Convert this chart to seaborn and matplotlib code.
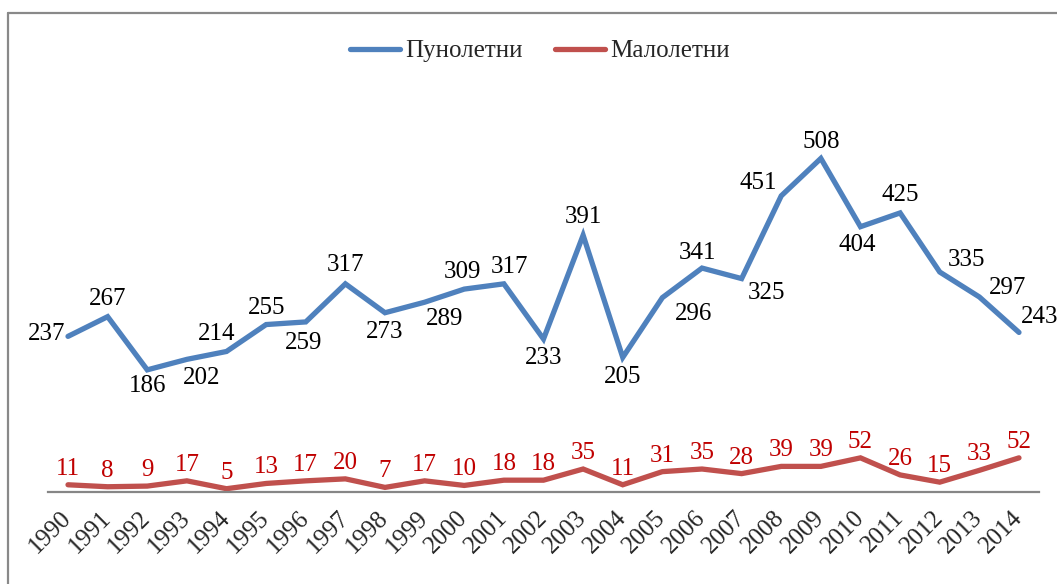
import pandas as pd
import seaborn as sns
import matplotlib.pyplot as plt
from matplotlib.lines import Line2D

# Data
years = [str(y) for y in range(1990, 2015)]
adults = [237, 267, 186, 202, 214, 255, 259, 317, 273, 289, 309, 317, 233,
          391, 205, 296, 341, 325, 451, 508, 404, 425, 335, 297, 243]
minors = [11, 8, 9, 17, 5, 13, 17, 20, 7, 17, 10, 18, 18,
          35, 11, 31, 35, 28, 39, 39, 52, 26, 15, 33, 52]
series_names = ["Пунолетни", "Малолетни"]

# label offsets (pixels) for the adult series, chosen to match the original
adult_offsets = [(-21, 2), (0, 18), (0, -16), (15, -19), (-10, 17), (0, 17),
                 (-2, -21), (0, 19), (0, -19), (20, -17), (-2, 17), (6, 17),
                 (0, -19), (0, 18), (0, -20), (31, -16), (-4, 15), (25, -14),
                 (-23, 13), (0, 16), (-3, -18), (0, 18), (27, 12), (28, 9),
                 (21, 15)]

blue = "#4F81BD"
red = "#C0504D"
label_red = "#C00000"

df = pd.DataFrame({
    "year": years * 2,
    "value": adults + minors,
    "group": [series_names[0]] * len(years) + [series_names[1]] * len(years),
})

sns.set_style("white")
plt.rcParams["font.family"] = ["Liberation Serif", "DejaVu Serif"]

W, H = 1057, 584
fig = plt.figure(figsize=(W / 100, H / 100), dpi=100)
ax = fig.add_axes([48.2 / W, 92 / H, 990.6 / W, 394 / H])

sns.lineplot(data=df, x="year", y="value", hue="group", palette=[blue, red],
             linewidth=3.8, ax=ax, legend=False, sort=False)
for line in ax.lines:
    line.set_solid_capstyle("round")
    line.set_solid_joinstyle("miter")

ax.set_xlim(-0.5, len(years) - 0.5)
ax.set_ylim(0, 600)
ax.set_xlabel("")
ax.set_ylabel("")
ax.set_yticks([])
for s in ["top", "left", "right"]:
    ax.spines[s].set_visible(False)
ax.spines["bottom"].set_color("#868686")
ax.spines["bottom"].set_linewidth(1.6)
ax.tick_params(axis="x", length=0, pad=16)
ax.set_xticks(range(len(years)))
ax.set_xticklabels(years, rotation=45, ha="right", va="center",
                   rotation_mode="anchor", fontsize=18)

for i, v in enumerate(adults):
    dx, dy = adult_offsets[i]
    ax.annotate(str(v), (i, v), xytext=(dx, dy), textcoords="offset pixels",
                ha="center", va="center", fontsize=18, color="black")
for i, v in enumerate(minors):
    ax.annotate(str(v), (i, v), xytext=(0, 16), textcoords="offset pixels",
                ha="center", va="center", fontsize=18, color=label_red)

handles = [Line2D([], [], color=blue, lw=3.8, solid_capstyle="round"),
           Line2D([], [], color=red, lw=3.8, solid_capstyle="round")]
fig.legend(handles, series_names, loc="center", bbox_to_anchor=(540 / W, 1 - 51 / H),
           ncol=2, frameon=False, fontsize=18, handlelength=2.0,
           handletextpad=0.2, columnspacing=1.3)

# outer frame (top and left edges visible in the original)
fig.add_artist(Line2D([8 / W, 1], [1 - 12.5 / H, 1 - 12.5 / H], color="#898989", lw=1.6))
fig.add_artist(Line2D([8 / W, 8 / W], [0, 1 - 12.5 / H], color="#898989", lw=1.6))

fig.savefig("out.png", dpi=100)
